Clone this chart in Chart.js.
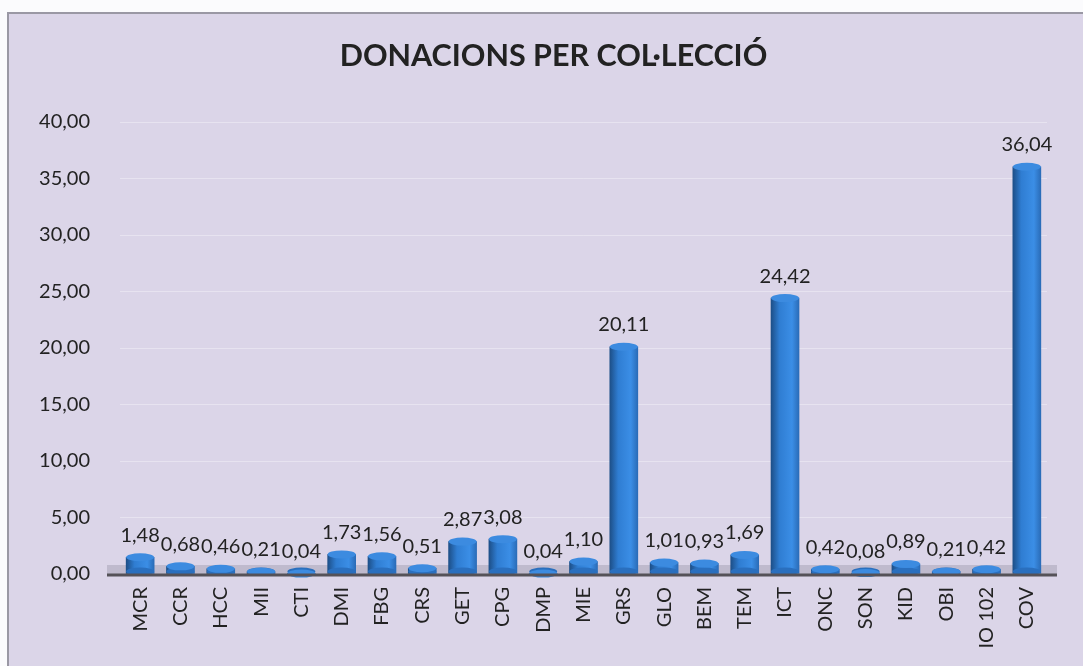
<!DOCTYPE html>
<html>
<head>
<meta charset="utf-8">
<script src="https://cdn.jsdelivr.net/npm/chart.js@4.4.0/dist/chart.umd.min.js"></script>
<style>
    html, body { margin: 0; padding: 0; background: #fff; }
    #wrap { width: 1083px; height: 666px; position: relative; }
</style>
</head>
<body>
<div id="wrap"><canvas id="donacionsChart"></canvas></div>
<script>
// Chart data
const chartTitle = 'DONACIONS PER COL·LECCIÓ';
const categories = ['MCR', 'CCR', 'HCC', 'MII', 'CTI', 'DMI', 'FBG', 'CRS', 'GET', 'CPG', 'DMP', 'MIE',
    'GRS', 'GLO', 'BEM', 'TEM', 'ICT', 'ONC', 'SON', 'KID', 'OBI', 'IO 102', 'COV'];
const donacions = [1.48, 0.68, 0.46, 0.21, 0.04, 1.73, 1.56, 0.51, 2.87, 3.08, 0.04, 1.10,
    20.11, 1.01, 0.93, 1.69, 24.42, 0.42, 0.08, 0.89, 0.21, 0.42, 36.04];
const yTicks = [0, 5, 10, 15, 20, 25, 30, 35, 40];

const FONT = 'Lato, "Open Sans", sans-serif';
const BAR_W = 28;

function fmt(v) {
    return v.toFixed(2).replace('.', ',');
}

// Cylinder-like shading across each bar
function barGradient(context) {
    const chart = context.chart;
    const xScale = chart.scales.x;
    if (!xScale || context.dataIndex === undefined) return '#3580d8';
    const cx = xScale.getPixelForValue(context.dataIndex);
    if (!isFinite(cx)) return '#3580d8';
    const g = chart.ctx.createLinearGradient(cx - BAR_W / 2, 0, cx + BAR_W / 2, 0);
    g.addColorStop(0, '#1d4f88');
    g.addColorStop(0.3, '#2f7dd2');
    g.addColorStop(0.75, '#3b8ee6');
    g.addColorStop(1, '#2a6cb8');
    return g;
}

// Background frame, title, floor, axis line and value labels
const backdrop = {
    id: 'backdrop',
    beforeDraw(chart) {
        const ctx = chart.ctx;
        ctx.save();
        ctx.fillStyle = '#fbfbfd';
        ctx.fillRect(0, 0, chart.width, chart.height);
        ctx.fillStyle = '#dbd5e8';
        ctx.fillRect(8, 13, chart.width - 8, chart.height - 13);
        ctx.strokeStyle = '#9a98a4';
        ctx.lineWidth = 2;
        ctx.beginPath();
        ctx.moveTo(8, chart.height);
        ctx.lineTo(8, 13);
        ctx.lineTo(chart.width, 13);
        ctx.stroke();
        // title, centred on the (slightly wider) original frame
        ctx.fillStyle = '#222';
        ctx.font = 'bold 30.5px ' + FONT;
        ctx.textAlign = 'center';
        ctx.textBaseline = 'middle';
        ctx.fillText(chartTitle, chart.width / 2 + 12, 56);
        ctx.restore();
    },
    beforeDatasetsDraw(chart) {
        const ctx = chart.ctx;
        const a = chart.chartArea;
        ctx.save();
        // 3D floor behind bars
        ctx.fillStyle = 'rgba(140, 138, 155, 0.35)';
        ctx.fillRect(a.left - 13, a.bottom - 9, a.right - a.left + 23, 9);
        ctx.restore();
    },
    afterDatasetsDraw(chart) {
        const ctx = chart.ctx;
        const a = chart.chartArea;
        const meta = chart.getDatasetMeta(0);
        ctx.save();
        // ellipses for cylinder look
        meta.data.forEach(function(bar) {
            const rx = bar.width / 2;
            ctx.fillStyle = '#2a6fbe';
            ctx.beginPath();
            ctx.ellipse(bar.x, bar.base - 2, rx, 4, 0, 0, Math.PI * 2);
            ctx.fill();
            ctx.fillStyle = '#3c8be0';
            ctx.beginPath();
            ctx.ellipse(bar.x, bar.y, rx, 4, 0, 0, Math.PI * 2);
            ctx.fill();
        });
        // axis line
        ctx.strokeStyle = '#555258';
        ctx.lineWidth = 3;
        ctx.beginPath();
        ctx.moveTo(a.left - 13, a.bottom + 1);
        ctx.lineTo(a.right + 10, a.bottom + 1);
        ctx.stroke();
        // value labels
        ctx.fillStyle = '#222';
        ctx.font = '20px ' + FONT;
        ctx.textAlign = 'center';
        ctx.textBaseline = 'bottom';
        meta.data.forEach(function(bar, i) {
            ctx.fillText(fmt(donacions[i]), bar.x, bar.y - 12);
        });
        ctx.restore();
    }
};

const chartCanvas = document.getElementById('donacionsChart');
new Chart(chartCanvas, {
    type: 'bar',
    data: {
        labels: categories,
        datasets: [{
            label: 'Donacions',
            data: donacions,
            backgroundColor: barGradient,
            borderWidth: 0,
            barThickness: BAR_W
        }]
    },
    options: {
        responsive: true,
        maintainAspectRatio: false,
        animation: false,
        layout: {
            padding: { left: 10, right: 36, top: 122, bottom: 0 }
        },
        plugins: {
            legend: { display: false },
            tooltip: { enabled: false },
            title: { display: false }
        },
        scales: {
            x: {
                offset: true,
                grid: { display: false, drawTicks: false },
                border: { display: false },
                ticks: {
                    color: '#222',
                    font: { family: FONT, size: 20 },
                    minRotation: 90,
                    maxRotation: 90,
                    autoSkip: false,
                    padding: 13
                },
                afterFit(scale) { scale.height = 92; }
            },
            y: {
                min: 0,
                max: 40,
                afterBuildTicks(scale) {
                    scale.ticks = yTicks.map(v => ({ value: v }));
                },
                grid: {
                    color: 'rgba(255, 255, 255, 0.35)',
                    lineWidth: 1,
                    drawTicks: false
                },
                border: { display: false },
                ticks: {
                    color: '#222',
                    font: { family: FONT, size: 20 },
                    padding: 30,
                    callback: function(v) { return fmt(v); }
                },
                afterFit(scale) { scale.width = 110; }
            }
        }
    },
    plugins: [backdrop]
});
</script>
</body>
</html>
